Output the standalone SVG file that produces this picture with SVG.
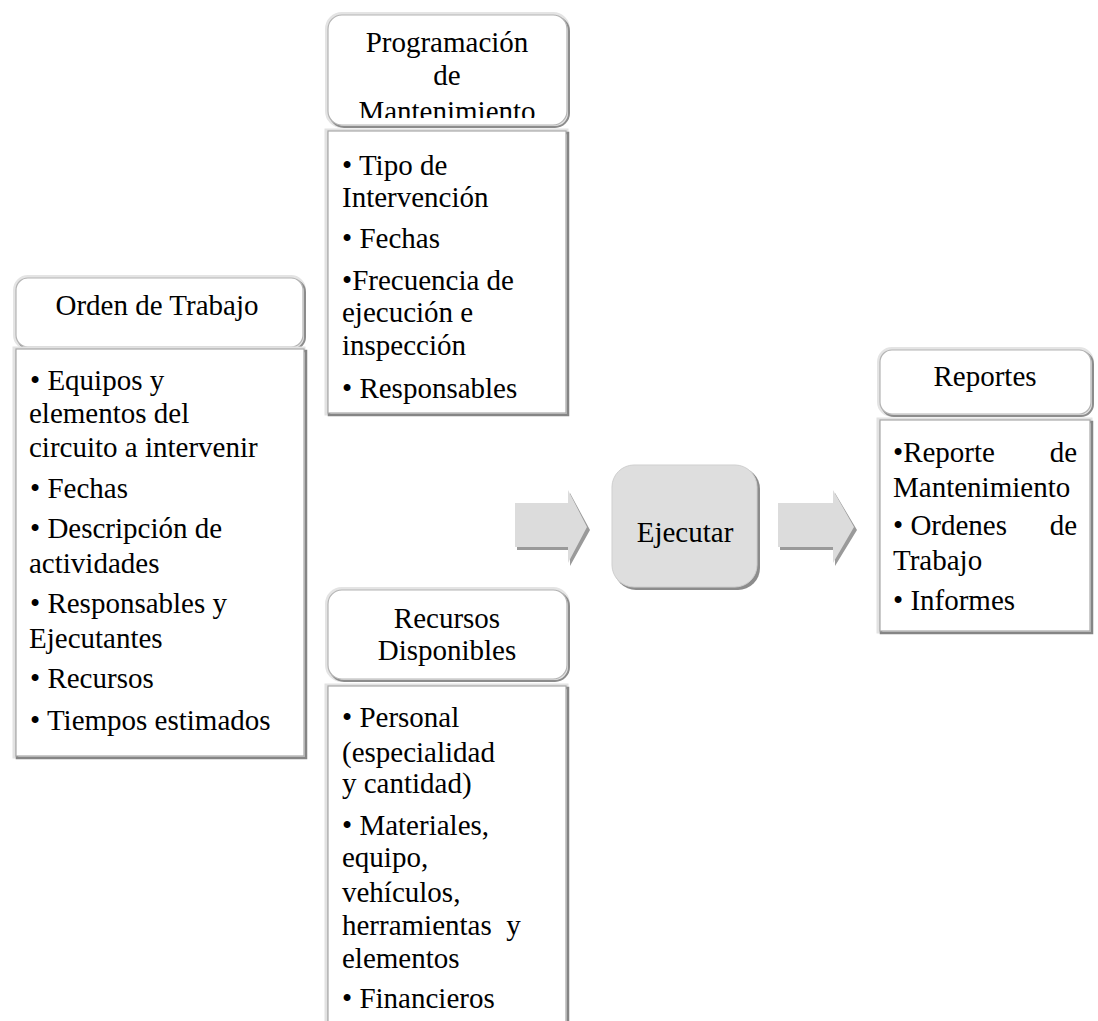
<svg xmlns="http://www.w3.org/2000/svg" width="1098" height="1021" viewBox="0 0 1098 1021">
<defs>
<style>
.t{font-family:"Liberation Serif","Times New Roman",Tinos,"Nimbus Roman","DejaVu Serif",serif;font-size:29px;fill:#000}
.c{text-anchor:middle}
.halo{fill:none;stroke:#e4e4e4;stroke-width:4}
.hshadow{fill:none;stroke:#8c8c8c;stroke-width:2}
.hmain{fill:#fff;stroke:#b4b4b4;stroke-width:1.2}
.bhalo{fill:none;stroke:#e2e2e2;stroke-width:3}
.bshadow{fill:none;stroke:#858585;stroke-width:2.5}
.bmain{fill:#fff;stroke:#a8a8a8;stroke-width:1.2}
.arrsh{fill:#9a9a9a}
.arr{fill:#dcdcdc}
</style>
<clipPath id="clipProg"><rect x="328" y="15" width="240" height="103"/></clipPath>
</defs>

<g id="connectors">
<polygon class="arrsh" points="517,506 570,506 570,493 590,530 570,566 570,550 517,550"/>
<polygon class="arr" points="515,503 568,503 568,490 587,527 568,563 568,547 515,547"/>
<polygon class="arrsh" points="780,506 835,506 835,493 857,530 835,566 835,550 780,550"/>
<polygon class="arr" points="778,503 833,503 833,490 854,527 833,563 833,547 778,547"/>
</g>

<g id="orden" class="t">
<rect class="halo" x="15" y="277" width="289" height="71" rx="13"/>
<rect class="hshadow" x="18" y="280" width="287" height="69" rx="12"/>
<rect class="hmain" x="16" y="278" width="287" height="69" rx="12"/>
<text class="c" x="157" y="315">Orden de Trabajo</text>
<rect class="bhalo" x="14" y="348" width="290" height="409"/>
<rect class="bshadow" x="17" y="351" width="289" height="407"/>
<rect class="bmain" x="16" y="349" width="288" height="407"/>
<text x="30" y="390">• Equipos y</text>
<text x="29" y="423">elementos del</text>
<text x="29" y="457">circuito a intervenir</text>
<text x="30" y="498">• Fechas</text>
<text x="30" y="538">• Descripción de</text>
<text x="29" y="573">actividades</text>
<text x="30" y="613">• Responsables y</text>
<text x="29" y="648">Ejecutantes</text>
<text x="30" y="688">• Recursos</text>
<text x="30" y="730">• Tiempos estimados</text>
</g>

<g id="programacion" class="t">
<rect class="halo" x="327" y="14" width="241" height="112" rx="15"/>
<rect class="hshadow" x="330" y="17" width="239" height="110" rx="14"/>
<rect class="hmain" x="328" y="15" width="239" height="110" rx="14"/>
<g clip-path="url(#clipProg)">
<text class="c" x="447" y="52">Programación</text>
<text class="c" x="447" y="85">de</text>
<text class="c" x="447" y="121">Mantenimiento</text>
</g>
<rect class="bhalo" x="326" y="130" width="241" height="284"/>
<rect class="bshadow" x="329" y="133" width="239" height="282"/>
<rect class="bmain" x="328" y="131" width="238" height="282"/>
<text x="342" y="175">• Tipo de</text>
<text x="342" y="207">Intervención</text>
<text x="342" y="248">• Fechas</text>
<text x="342" y="290">•Frecuencia de</text>
<text x="342" y="322">ejecución e</text>
<text x="342" y="355">inspección</text>
<text x="342" y="398">• Responsables</text>
</g>

<g id="recursos" class="t">
<rect class="halo" x="327" y="589" width="241" height="91" rx="15"/>
<rect class="hshadow" x="330" y="592" width="239" height="89" rx="14"/>
<rect class="hmain" x="328" y="590" width="239" height="89" rx="14"/>
<text class="c" x="447" y="628">Recursos</text>
<text class="c" x="447" y="660">Disponibles</text>
<rect class="bhalo" x="326" y="685" width="241" height="360"/>
<rect class="bshadow" x="329" y="688" width="239" height="360"/>
<rect class="bmain" x="328" y="686" width="238" height="360"/>
<text x="342" y="727">• Personal</text>
<text x="342" y="762">(especialidad</text>
<text x="342" y="793">y cantidad)</text>
<text x="342" y="835">• Materiales,</text>
<text x="342" y="867">equipo,</text>
<text x="342" y="902">vehículos,</text>
<text x="342" y="935" xml:space="preserve">herramientas  y</text>
<text x="342" y="968">elementos</text>
<text x="342" y="1008">• Financieros</text>
</g>

<g id="ejecutar" class="t">
<rect x="614" y="467" width="146" height="123" rx="22" fill="#8c8c8c"/>
<rect x="612" y="465" width="145" height="122" rx="22" fill="#dedede" stroke="#cfcfcf" stroke-width="1"/>
<text class="c" x="685" y="542">Ejecutar</text>
</g>

<g id="reportes" class="t">
<rect class="halo" x="879" y="349" width="213" height="66" rx="13"/>
<rect class="hshadow" x="882" y="352" width="211" height="64" rx="12"/>
<rect class="hmain" x="880" y="350" width="211" height="64" rx="12"/>
<text class="c" x="985" y="386">Reportes</text>
<rect class="bhalo" x="878" y="419" width="213" height="213"/>
<rect class="bshadow" x="881" y="422" width="211" height="211"/>
<rect class="bmain" x="880" y="420" width="210" height="211"/>
<text x="893" y="462">•Reporte</text>
<text x="1077" y="462" text-anchor="end">de</text>
<text x="893" y="497">Mantenimiento</text>
<text x="893" y="535">• Ordenes</text>
<text x="1077" y="535" text-anchor="end">de</text>
<text x="893" y="570">Trabajo</text>
<text x="893" y="610">• Informes</text>
</g>
</svg>
